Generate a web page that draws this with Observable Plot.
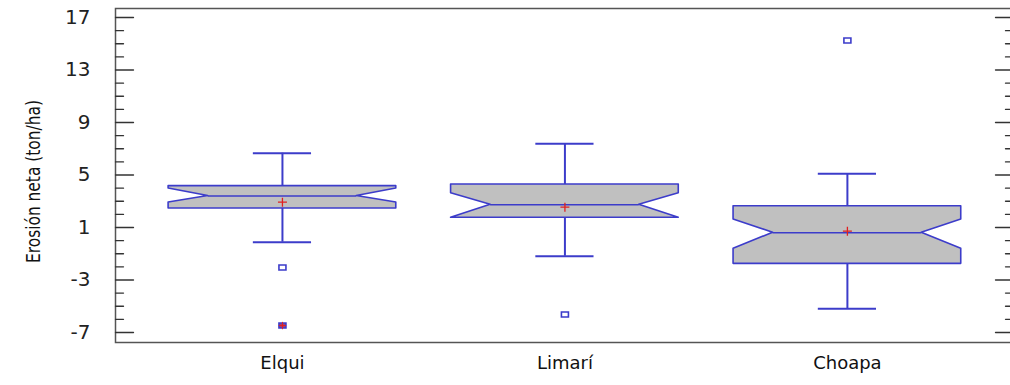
<!DOCTYPE html>
<html>
<head>
<meta charset="utf-8">
<script src="https://cdn.jsdelivr.net/npm/d3@7"></script>
<script src="https://cdn.jsdelivr.net/npm/@observablehq/plot@0.6"></script>
<style>
  html, body { margin: 0; padding: 0; background: #fff; overflow: hidden; }
  #chart svg { display: block; }
</style>
</head>
<body>
<div id="chart"></div>
<script>
// ---- data ----
const categories = ["Elqui", "Limarí", "Choapa"];
const q1         = [2.45, 1.74, -1.77];
const median     = [3.40, 2.73, 0.60];
const q3         = [4.15, 4.28, 2.62];
const notchLow   = [2.90, 1.74, -0.62];
const notchHigh  = [3.97, 3.61, 1.61];
const whiskerLow = [-0.12, -1.19, -5.19];
const whiskerHigh= [6.66, 7.38, 5.09];
const means      = [2.93, 2.55, 0.72];
const outlierCat   = ["Elqui", "Elqui", "Limarí", "Choapa"];
const outlierValue = [-2.05, -6.47, -5.63, 15.25];
const outlierFar   = [false, true, false, false];
const majorTicks = [17, 13, 9, 5, 1, -3, -7];
const minorTicks = d3.range(-7, 18, 1);
const yLabel = "Erosión neta (ton/ha)";

// ---- styles ----
const boxHalf = 0.403, notchDepth = 0.14, capHalf = 0.103;
const blue = "#3c3cca", boxFill = "#c0c0c0", red = "#e02020";
const xDomain = [-0.591, 2.588];
const yDomain = [-7.762, 17.686];

const idx = categories.map((_, i) => i);
const boxRows = idx.flatMap(i => [
  {c: i, y: q1[i],        x1: i - boxHalf,              x2: i + boxHalf},
  {c: i, y: notchLow[i],  x1: i - boxHalf,              x2: i + boxHalf},
  {c: i, y: median[i],    x1: i - boxHalf + notchDepth, x2: i + boxHalf - notchDepth},
  {c: i, y: notchHigh[i], x1: i - boxHalf,              x2: i + boxHalf},
  {c: i, y: q3[i],        x1: i - boxHalf,              x2: i + boxHalf}
]);
const outliers = outlierCat.map((c, k) => ({x: categories.indexOf(c), y: outlierValue[k], far: outlierFar[k]}));
const minorOnly = minorTicks.filter(d => !majorTicks.includes(d));

const tickShape = {draw(ctx, l) { ctx.moveTo(0, 0); ctx.lineTo(0, -l); }};
const rectSym = {draw(ctx) { ctx.rect(-3.5, -2.5, 7, 5); }};

const chart = Plot.plot({
  width: 1010,
  height: 385,
  marginLeft: 115,
  marginRight: -3,
  marginTop: 8,
  marginBottom: 43,
  style: {fontFamily: "'DejaVu Sans', Verdana, sans-serif", background: "#fff"},
  x: {domain: xDomain, axis: null},
  y: {domain: yDomain, axis: null},
  marks: [
    Plot.frame({stroke: "#555", strokeWidth: 1.5}),
    // inside ticks, left and right
    Plot.vector(majorTicks, {x: () => xDomain[0], y: d => d, length: 18, rotate: 90, anchor: "start", shape: tickShape, stroke: "#333", strokeWidth: 1.3}),
    Plot.vector(minorOnly, {x: () => xDomain[0], y: d => d, length: 8, rotate: 90, anchor: "start", shape: tickShape, stroke: "#333", strokeWidth: 1.3}),
    Plot.vector(majorTicks, {x: () => xDomain[1], y: d => d, length: 18, rotate: -90, anchor: "start", shape: tickShape, stroke: "#333", strokeWidth: 1.3}),
    Plot.vector(minorOnly, {x: () => xDomain[1], y: d => d, length: 8, rotate: -90, anchor: "start", shape: tickShape, stroke: "#333", strokeWidth: 1.3}),
    // y tick labels
    Plot.text(majorTicks, {x: () => xDomain[0], y: d => d, text: d => String(d), textAnchor: "end", dx: -25, fontSize: 20, fill: "#222"}),
    // x tick labels
    Plot.text(idx, {x: d => d, y: () => yDomain[0], text: d => categories[d], dy: 21, fontSize: 18, fill: "#111"}),
    // y axis label
    Plot.text([yLabel], {frameAnchor: "left", textAnchor: "middle", rotate: -90, dx: -82, dy: 6, fontSize: 20, fill: "#111",
      className: "ylab",
      fontFamily: "'Liberation Sans Narrow', 'DejaVu Sans Condensed', 'Arial Narrow', sans-serif"}),
    // whiskers
    Plot.ruleX(idx, {x: d => d, y1: d => q3[d], y2: d => whiskerHigh[d], stroke: blue, strokeWidth: 2}),
    Plot.ruleX(idx, {x: d => d, y1: d => q1[d], y2: d => whiskerLow[d], stroke: blue, strokeWidth: 2}),
    Plot.ruleY(idx, {y: d => whiskerHigh[d], x1: d => d - capHalf, x2: d => d + capHalf, stroke: blue, strokeWidth: 2}),
    Plot.ruleY(idx, {y: d => whiskerLow[d], x1: d => d - capHalf, x2: d => d + capHalf, stroke: blue, strokeWidth: 2}),
    // notched boxes
    Plot.areaX(boxRows, {y: "y", x1: "x1", x2: "x2", z: "c", fill: boxFill, stroke: blue, strokeWidth: 1.6, curve: "linear"}),
    Plot.ruleY(idx, {y: d => median[d], x1: d => d - boxHalf + notchDepth, x2: d => d + boxHalf - notchDepth, stroke: blue, strokeWidth: 1.6}),
    // means
    Plot.dot(idx, {x: d => d, y: d => means[d], symbol: "plus", r: 3, stroke: red, strokeWidth: 1.3}),
    // outliers
    Plot.dot(outliers, {x: "x", y: "y", symbol: rectSym, stroke: blue, strokeWidth: 1.6, fill: d => d.far ? "#a0407a" : "none"}),
    Plot.dot(outliers.filter(d => d.far), {x: "x", y: "y", symbol: "plus", r: 2.5, stroke: red, strokeWidth: 1})
  ]
});
// condense the axis title like the narrow font of the reference
d3.select(chart).selectAll(".ylab text").attr("textLength", 163).attr("lengthAdjust", "spacingAndGlyphs");
document.getElementById("chart").appendChild(chart);
</script>
</body>
</html>
